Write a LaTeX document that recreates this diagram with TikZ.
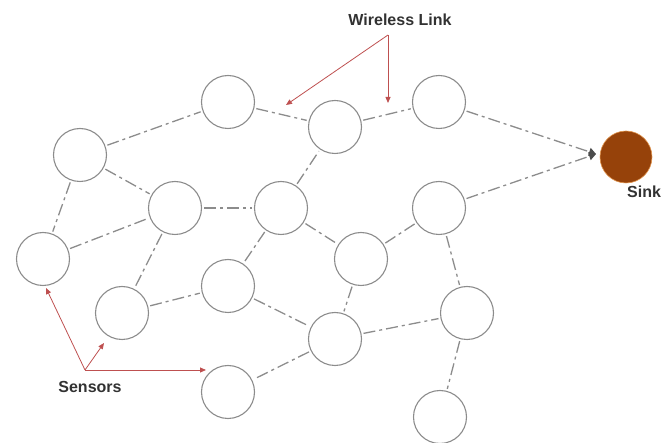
\documentclass[tikz,border=0pt]{standalone}
\usepackage{fontspec}
\setmainfont{Liberation Sans}
\usetikzlibrary{arrows.meta}
\definecolor{ringgray}{RGB}{140,140,140}
\definecolor{linkgray}{RGB}{140,140,140}
\definecolor{sinkbrown}{RGB}{150,66,10}
\definecolor{annored}{RGB}{190,80,80}
\definecolor{labeltext}{RGB}{50,50,50}
\begin{document}
\begin{tikzpicture}[x=1pt,y=-1pt,
  sensor/.style={circle,draw=ringgray,line width=1.1pt,fill=white,minimum size=53pt,inner sep=0pt},
  sinknode/.style={circle,draw={rgb,255:red,225;green,150;blue,80},line width=0.6pt,fill=sinkbrown,minimum size=52pt,inner sep=0pt},
  link/.style={draw=linkgray,line width=1.3pt,dash pattern=on 12pt off 4pt on 3pt off 4pt,shorten >=2pt,shorten <=2pt},
  tosink/.style={draw=linkgray,line width=1.3pt,dash pattern=on 12pt off 4pt on 3pt off 4pt,shorten <=2pt,-{Triangle[length=7pt,width=8pt,color=black!70]}},
  anno/.style={draw=annored,line width=0.8pt,-{Triangle[length=6pt,width=5pt]}},
  lbl/.style={font=\fontsize{16}{18}\selectfont\bfseries,text=labeltext,inner sep=0pt}
]
\useasboundingbox (0,0) rectangle (662,443);
% sensors
\node[sensor] (A) at (80,155) {};
\node[sensor] (B) at (228,102) {};
\node[sensor] (C) at (335,127) {};
\node[sensor] (F) at (439,102) {};
\node[sensor] (D) at (175,208) {};
\node[sensor] (E) at (281,208) {};
\node[sensor] (G) at (439,208) {};
\node[sensor] (H) at (43,259) {};
\node[sensor] (M) at (361,259) {};
\node[sensor] (I) at (122,313) {};
\node[sensor] (J) at (228,286) {};
\node[sensor] (K) at (335,339) {};
\node[sensor] (N) at (467,313) {};
\node[sensor] (L) at (228,392) {};
\node[sensor] (O) at (440,417) {};
\node[sinknode] (S) at (626,157) {};
\coordinate (sinkin) at (596,154);
% links
\draw[link] (A) -- (B);
\draw[link] (B) -- (C);
\draw[link] (C) -- (F);
\draw[link] (A) -- (D);
\draw[link] (A) -- (H);
\draw[link] (D) -- (E);
\draw[link] (E) -- (C);
\draw[link] (H) -- (D);
\draw[link] (D) -- (I);
\draw[link] (E) -- (M);
\draw[link] (E) -- (J);
\draw[link] (I) -- (J);
\draw[link] (J) -- (K);
\draw[link] (M) -- (K);
\draw[link] (M) -- (G);
\draw[link] (K) -- (N);
\draw[link] (K) -- (L);
\draw[link] (G) -- (N);
\draw[link] (N) -- (O);
\draw[tosink] (F) -- (sinkin);
\draw[tosink] (G) -- (sinkin);
% labels
\node[lbl] (wl) at (400,20) {Wireless Link};
\node[lbl] (sn) at (90,387) {Sensors};
\node[lbl,anchor=west] (sk) at (627,192) {Sink};
% annotation arrows
\coordinate (wlapex) at (388,35);
\coordinate (wlt1) at (286,105);
\coordinate (wlt2) at (388,103);
\draw[anno] (wlapex) -- (wlt1);
\draw[anno] (wlapex) -- (wlt2);
\coordinate (snapex) at (85,370);
\coordinate (snt1) at (46,288);
\coordinate (snt2) at (104,343);
\coordinate (snt3) at (206,370);
\draw[anno] (snapex) -- (snt1);
\draw[anno] (snapex) -- (snt2);
\draw[anno] (snapex) -- (snt3);
\end{tikzpicture}
\end{document}
